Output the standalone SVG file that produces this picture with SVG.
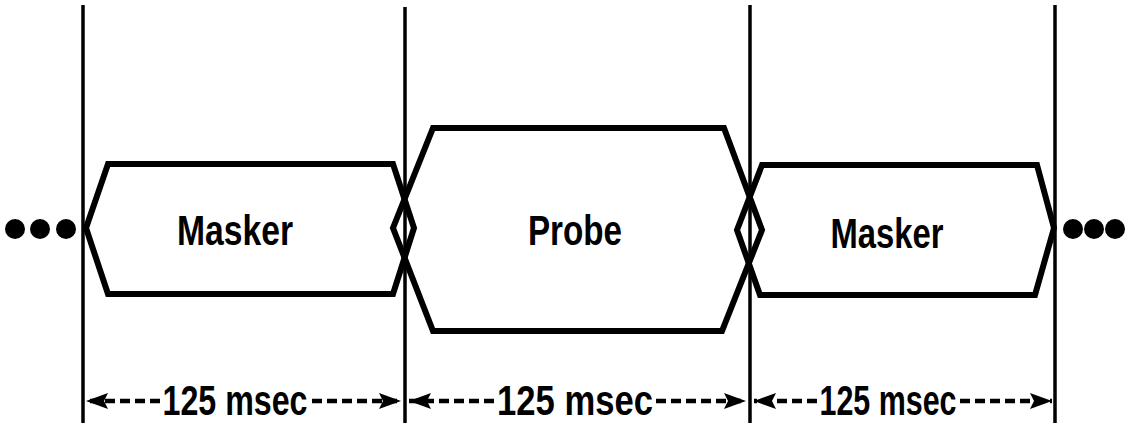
<svg xmlns="http://www.w3.org/2000/svg" width="1132" height="433" viewBox="0 0 1132 433">
<style>
.shape{fill:none;stroke:#000;stroke-width:6;stroke-linejoin:miter}
.vline{stroke:#000;stroke-width:3.5}
.lbl{font-family:"Liberation Sans",Arial,sans-serif;font-weight:bold;font-size:42px;fill:#000}
.dim{font-family:"Liberation Sans",Arial,sans-serif;font-weight:bold;font-size:42px;fill:#000}
.dash{stroke:#000;stroke-width:4.5;stroke-dasharray:10 5}
</style>
<defs>
<marker id="ah" viewBox="0 0 22 16" refX="22" refY="8" markerWidth="22" markerHeight="16" markerUnits="userSpaceOnUse" orient="auto">
<path d="M0,0 L22,8 L0,16 L4,8 Z" fill="#000"/>
</marker>
</defs>
<rect width="1132" height="433" fill="#fff"/>
<g id="timelines">
<line class="vline" x1="83" y1="5" x2="83" y2="423"/>
<line class="vline" x1="405" y1="7" x2="405" y2="423"/>
<line class="vline" x1="750" y1="5" x2="750" y2="423"/>
<line class="vline" x1="1055" y1="5" x2="1055" y2="423"/>
</g>
<g id="dots-left">
<circle cx="15" cy="229" r="10"/>
<circle cx="40" cy="229" r="10"/>
<circle cx="66" cy="229" r="10"/>
</g>
<g id="dots-right">
<circle cx="1073" cy="229" r="10"/>
<circle cx="1094" cy="229" r="10"/>
<circle cx="1115" cy="229" r="10"/>
</g>
<g id="masker1">
<path class="shape" d="M108,164 L393,164 L414,228 L393,294 L108,294 L86,228 Z"/>
<text class="lbl" x="235" y="245" text-anchor="middle" textLength="116" lengthAdjust="spacingAndGlyphs">Masker</text>
</g>
<g id="probe">
<path class="shape" d="M433,128 L724,128 L762,230 L722,331 L433,331 L393,228 Z"/>
<text class="lbl" x="575" y="245" text-anchor="middle" textLength="94" lengthAdjust="spacingAndGlyphs">Probe</text>
</g>
<g id="masker2">
<path class="shape" d="M762,165 L1037,165 L1054,228 L1035,295 L760,295 L737,230 Z"/>
<text class="lbl" x="887" y="248" text-anchor="middle" textLength="113" lengthAdjust="spacingAndGlyphs">Masker</text>
</g>
<g id="connectors">
<line class="dash" x1="160" y1="401" x2="86" y2="401" marker-end="url(#ah)"/>
<line class="dash" x1="312" y1="401" x2="401" y2="401" marker-end="url(#ah)"/>
<line class="dash" x1="494" y1="401" x2="409" y2="401" marker-end="url(#ah)"/>
<line class="dash" x1="656" y1="401" x2="746" y2="401" marker-end="url(#ah)"/>
<line class="dash" x1="817" y1="401" x2="754" y2="401" marker-end="url(#ah)"/>
<line class="dash" x1="960" y1="401" x2="1052" y2="401" marker-end="url(#ah)"/>
</g>
<g id="durations">
<text class="dim" x="235" y="415" text-anchor="middle" textLength="145" lengthAdjust="spacingAndGlyphs">125 msec</text>
<text class="dim" x="575" y="415" text-anchor="middle" textLength="156" lengthAdjust="spacingAndGlyphs">125 msec</text>
<text class="dim" x="888" y="415" text-anchor="middle" textLength="137" lengthAdjust="spacingAndGlyphs">125 msec</text>
</g>
</svg>
